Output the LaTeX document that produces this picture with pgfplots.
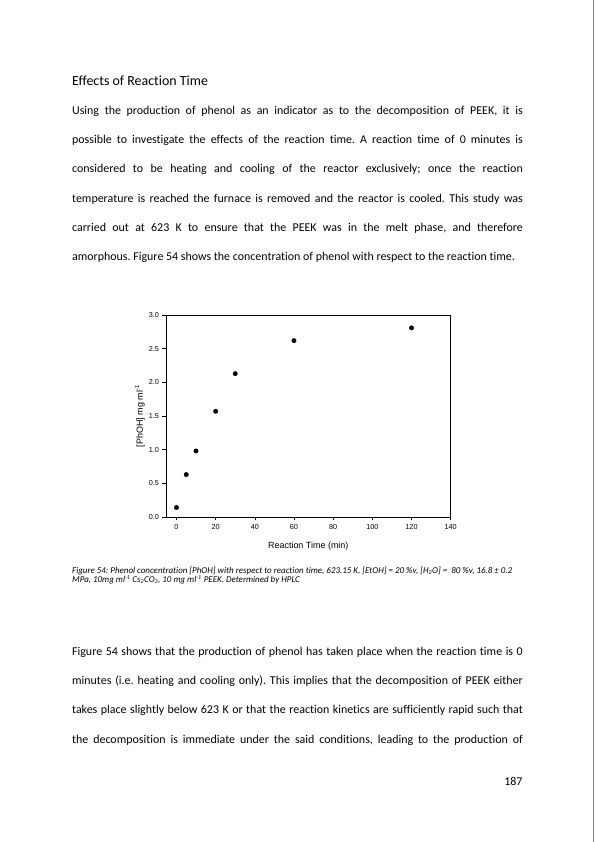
\documentclass[border=0pt]{standalone}
\usepackage{fontspec}
\setmainfont{Carlito}[Ligatures=NoCommon]
\newfontfamily\chartfont{Liberation Sans}
\usepackage{pgfplots}
\pgfplotsset{compat=1.18}
\frenchspacing

% one justified body line, baseline at page y = #1 (bp from top)
\newcommand\jline[2]{\node[anchor=base west, inner sep=0pt] at (72,-#1) {\makebox[451bp][s]{#2}};}
\newcommand\pline[2]{\node[anchor=base west, inner sep=0pt] at (72,-#1) {#2};}

\begin{document}
\begin{tikzpicture}[x=1bp,y=1bp]
  \fill[white] (0,0) rectangle (595,-842);
  \draw[black!45, line width=0.6bp] (594,0) -- (594,-842);

  \node[anchor=base west, inner sep=0pt, font=\fontsize{14}{16}\selectfont] at (72,-85.5) {Effects of Reaction Time};

  \begingroup
  \fontsize{12}{14}\selectfont
  \jline{114}{Using the production of phenol as an indicator as to the decomposition of PEEK, it is}
  \jline{143.3}{possible to investigate the effects of the reaction time. A reaction time of 0 minutes is}
  \jline{172.6}{considered to be heating and cooling of the reactor exclusively; once the reaction}
  \jline{201.9}{temperature is reached the furnace is removed and the reactor is cooled. This study was}
  \jline{231.2}{carried out at 623 K to ensure that the PEEK was in the melt phase, and therefore}
  \pline{260.5}{amorphous. Figure 54 shows the concentration of phenol with respect to the reaction time.}

  \jline{655.5}{Figure 54 shows that the production of phenol has taken place when the reaction time is 0}
  \jline{684.8}{minutes (i.e. heating and cooling only). This implies that the decomposition of PEEK either}
  \jline{714.1}{takes place slightly below 623 K or that the reaction kinetics are sufficiently rapid such that}
  \jline{743.4}{the decomposition is immediate under the said conditions, leading to the production of}
  \endgroup

  \node[anchor=base east, inner sep=0pt, font=\fontsize{12}{14}\selectfont] at (523,-786) {187};

  \node[anchor=base west, inner sep=0pt, align=left, font=\itshape\fontsize{9}{9.8}\selectfont] at (72,-583)
    {Figure 54: Phenol concentration [PhOH] with respect to reaction time, 623.15 K, [EtOH] = 20 \%v, [H\textsubscript{2}O] =\ \ 80 \%v, 16.8 ± 0.2\\
     MPa, 10mg ml\textsuperscript{-1} Cs\textsubscript{2}CO\textsubscript{3}, 10 mg ml\textsuperscript{-1} PEEK. Determined by HPLC};

  \begin{axis}[
      at={(166bp,-517bp)}, anchor=south west,
      scale only axis,
      width=285bp, height=202bp,
      xmin=-5.4, xmax=140,
      ymin=0, ymax=3,
      xtick={0,20,...,140},
      ytick={0,0.5,...,3},
      yticklabel style={/pgf/number format/.cd, fixed, fixed zerofill, precision=1},
      tick align=outside,
      tick pos=left,
      major tick length=3.5bp,
      axis line style={line width=0.5bp},
      every tick/.style={line width=0.5bp, black},
      tick label style={font=\chartfont\fontsize{7.3}{8}\selectfont},
      /pgf/number format/assume math mode=true,
      xlabel={Reaction Time (min)},
      ylabel={[PhOH] mg ml\textsuperscript{-1}},
      every axis x label/.style={at={(axis description cs:0.5,0)}, yshift=-29bp, anchor=center,
        font=\chartfont\fontsize{9}{10}\selectfont},
      every axis y label/.style={at={(axis description cs:0,0.5)}, xshift=-26bp, rotate=90, anchor=center,
        font=\chartfont\fontsize{9}{10}\selectfont},
    ]
    \addplot[only marks, mark=*, mark size=2.2bp, black] coordinates {
      (0, 0.14)
      (5, 0.63)
      (10, 0.98)
      (20, 1.57)
      (30, 2.13)
      (60, 2.62)
      (120, 2.81)
    };
  \end{axis}
\end{tikzpicture}
\end{document}
